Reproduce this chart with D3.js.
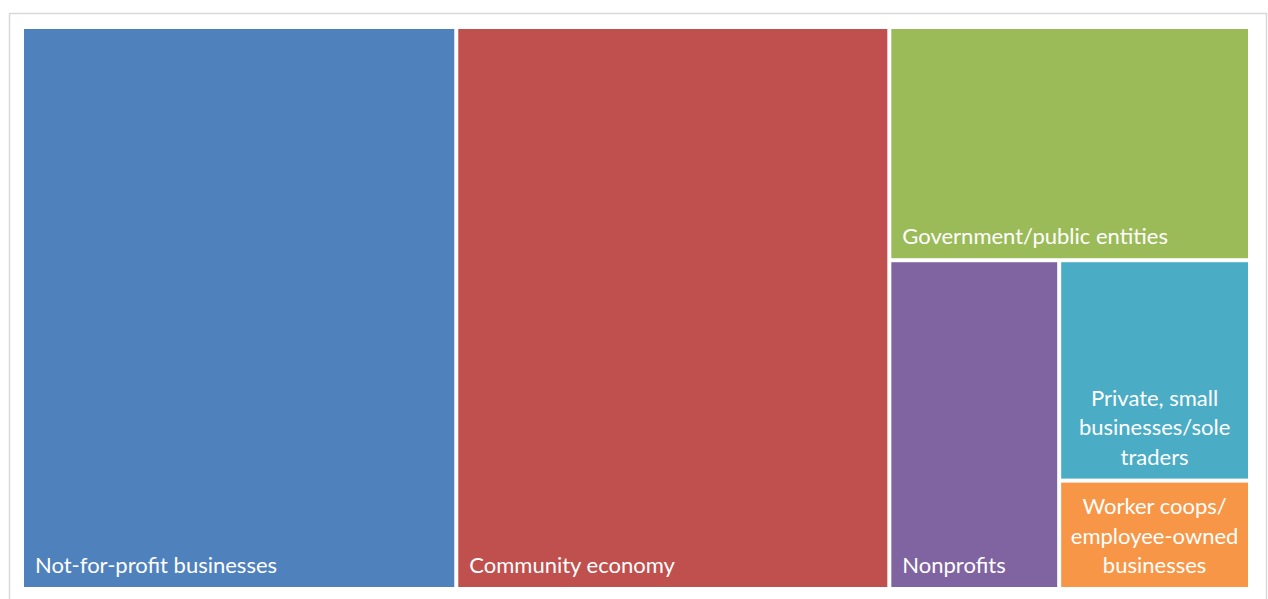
<!DOCTYPE html>
<html>
<head>
<meta charset="utf-8">
<script src="https://cdn.jsdelivr.net/npm/d3@7"></script>
<style>
  html, body { margin: 0; padding: 0; background: #fff; }
  svg { display: block; }
</style>
</head>
<body>
<svg id="chart" width="1268" height="599"></svg>
<script>
// treemap data (shares)
const categories = [
    "Not-for-profit businesses",
    "Community economy",
    "Government/public entities",
    "Nonprofits",
    "Private, small businesses/sole traders",
    "Worker coops/ employee-owned businesses"
];
const values = [35.4, 35.3, 12.2, 8.1, 6.1, 3.0];
const colors = ["#4F81BD", "#C0504D", "#9BBB59", "#8064A2", "#4BACC6", "#F79646"];

const svg = d3.select("#chart");

// outer chart frame
svg.append("rect")
    .attr("x", 9.5).attr("y", 13.5)
    .attr("width", 1257).attr("height", 590)
    .attr("fill", "#fff")
    .attr("stroke", "#d9d9d9")
    .attr("stroke-width", 1.5);

const plot = { x: 24, y: 29, w: 1224, h: 558 };

const root = d3.hierarchy({
        children: categories.map((c, i) => ({ name: c, value: values[i], color: colors[i] }))
    })
    .sum(d => d.value || 0)
    .sort((a, b) => b.value - a.value);

d3.treemap()
    .tile(d3.treemapSquarify.ratio(1))
    .size([plot.w, plot.h])
    .paddingInner(4)
    .round(false)(root);

const g = svg.append("g")
    .attr("transform", `translate(${plot.x},${plot.y})`);

const cell = g.selectAll("g.cell")
    .data(root.leaves())
    .join("g")
    .attr("class", "cell");

cell.append("rect")
    .attr("x", d => d.x0)
    .attr("y", d => d.y0)
    .attr("width", d => d.x1 - d.x0)
    .attr("height", d => d.y1 - d.y0)
    .attr("fill", d => d.data.color);

const fontSize = 22;
const lineH = 29.5;

cell.each(function(d) {
    const sel = d3.select(this);
    const text = sel.append("text")
        .attr("fill", "#fff")
        .attr("font-family", "Lato, 'Open Sans', sans-serif")
        .attr("font-size", fontSize + "px");

    // greedy word wrap inside the cell
    const maxW = (d.x1 - d.x0) - 14;
    const words = d.data.name.split(" ");
    const lines = [];
    let cur = "";
    const probe = text.append("tspan");
    words.forEach(w => {
        const tryLine = cur ? cur + " " + w : w;
        probe.text(tryLine);
        if (cur && probe.node().getComputedTextLength() > maxW) {
            lines.push(cur);
            cur = w;
        } else {
            cur = tryLine;
        }
    });
    lines.push(cur);
    probe.remove();

    const bottom = d.y1 - 14;
    const multi = lines.length > 1;
    text.attr("text-anchor", multi ? "middle" : "start");
    lines.forEach((ln, i) => {
        text.append("tspan")
            .attr("x", multi ? (d.x0 + d.x1) / 2 : d.x0 + 11)
            .attr("y", bottom - (lines.length - 1 - i) * lineH)
            .text(ln);
    });
});
</script>
</body>
</html>
